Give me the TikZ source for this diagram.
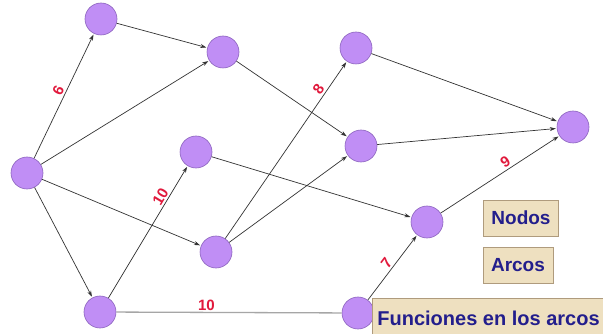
\documentclass[tikz,border=0pt]{standalone}
\definecolor{NodoLila}{RGB}{192, 142, 245}
\definecolor{NodoBorde}{RGB}{140, 100, 190}
\definecolor{CajaFondo}{RGB}{238, 224, 192}
\definecolor{CajaBorde}{RGB}{175, 155, 125}
\definecolor{TextoAzul}{RGB}{35, 30, 140}
\definecolor{PesoRojo}{RGB}{225, 25, 60}
\usepackage{fontspec}
\setmainfont{Liberation Sans}
\usetikzlibrary{arrows.meta}

\begin{document}
\begin{tikzpicture}[x=1pt, y=-1pt,
    nodo/.style={circle, draw=NodoBorde, line width=0.6pt, fill=NodoLila, minimum size=32pt, inner sep=0pt},
    arco/.style={-{Stealth[length=6pt, width=4pt]}, draw=black!80, line width=0.7pt, shorten >=1pt},
    peso/.style={text=PesoRojo, font=\bfseries\fontsize{15}{15}\selectfont, sloped, inner sep=2pt},
    caja/.style={draw=CajaBorde, line width=0.8pt, fill=CajaFondo, text=TextoAzul, font=\bfseries\fontsize{19}{19}\selectfont, minimum height=36pt, inner xsep=8pt}]
    \fill[white] (0,0) rectangle (603,334);
    \clip (0,0) rectangle (603,334);

    % nodos
    \node[nodo] (a) at (27,173) {};
    \node[nodo] (b) at (101,19) {};
    \node[nodo] (c) at (223,52) {};
    \node[nodo] (d) at (196,152) {};
    \node[nodo] (e) at (216,252) {};
    \node[nodo] (f) at (100,312) {};
    \node[nodo] (g) at (356,48) {};
    \node[nodo] (h) at (361,146) {};
    \node[nodo] (i) at (573,127) {};
    \node[nodo] (j) at (427,222) {};
    \node[nodo] (k) at (358,313) {};

    % arcos
    \draw[arco] (a) -- node[peso, pos=0.52, above] {6} (b);
    \draw[arco] (a) -- (c);
    \draw[arco] (a) -- (e);
    \draw[arco] (a) -- (f);
    \draw[arco] (b) -- (c);
    \draw[arco] (c) -- (h);
    \draw[arco] (f) -- node[peso, pos=0.74, above] {10} (d);
    \draw[draw=black!35, line width=1.3pt] (f) -- node[peso, pos=0.4, above, inner sep=1pt] {10} (k);
    \draw[arco] (e) -- node[peso, pos=0.82, above] {8} (g);
    \draw[arco] (e) -- (h);
    \draw[arco] (d) -- (j);
    \draw[arco] (g) -- (i);
    \draw[arco] (h) -- (i);
    \draw[arco] (j) -- node[peso, pos=0.58, above] {9} (i);
    \draw[arco] (k) -- node[peso, pos=0.5, above] {7} (j);

    % leyenda
    \node[caja] (nodos) at (521,218) {Nodos};
    \node[caja] (arcos) at (518,265) {Arcos};
    \node[caja, anchor=north west, minimum height=40pt, inner xsep=5pt, font=\bfseries\fontsize{20}{20}\selectfont] (funciones) at (372,298) {Funciones en los arcos};
\end{tikzpicture}
\end{document}
